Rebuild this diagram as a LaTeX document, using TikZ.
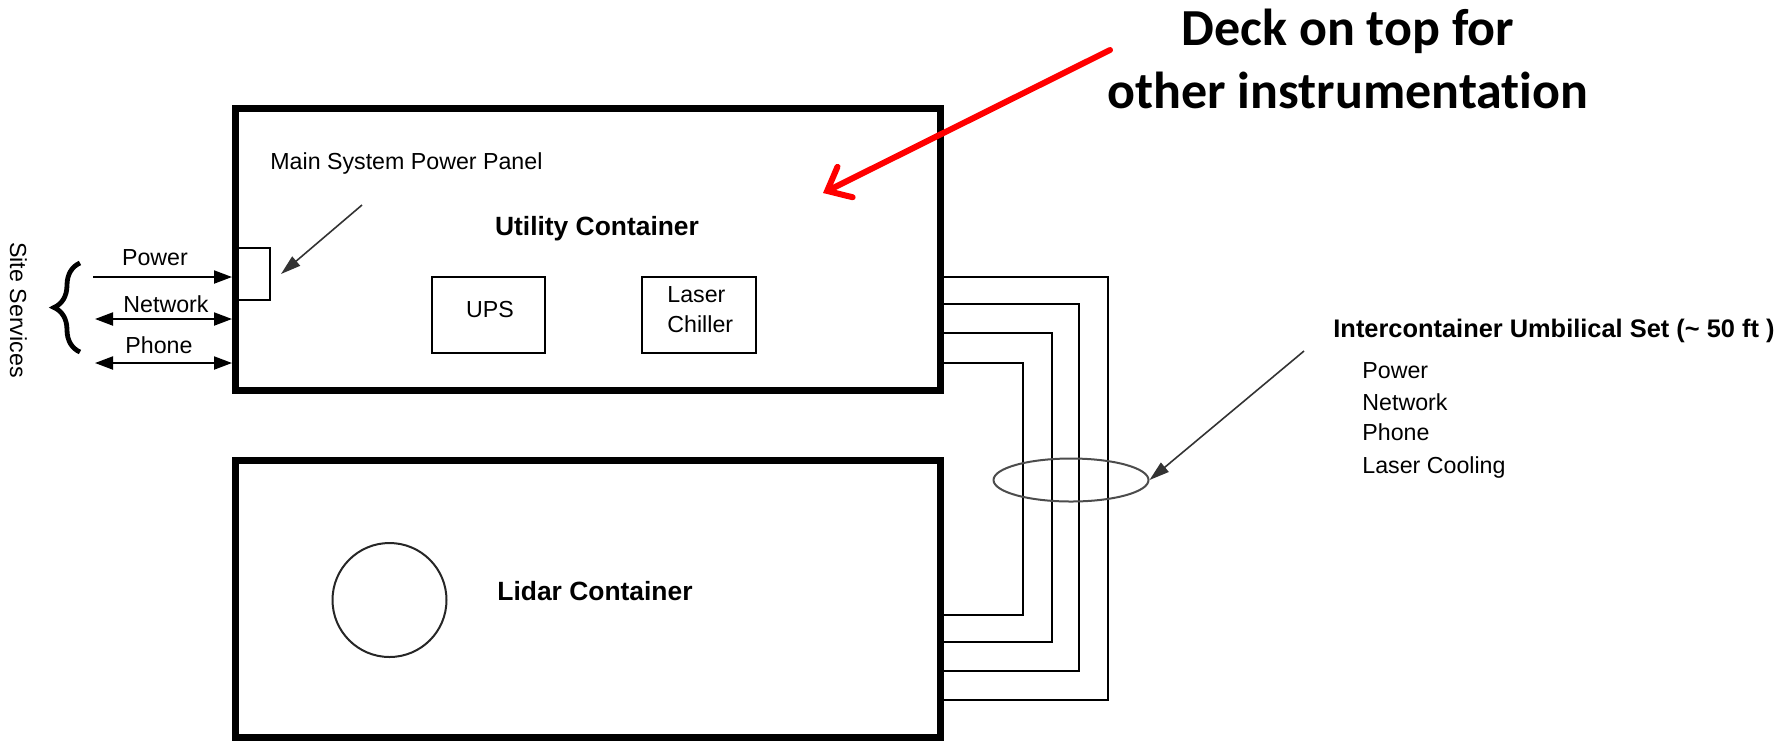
\documentclass[tikz,border=0pt]{standalone}
\usepackage{fontspec}
\setmainfont{Liberation Sans}
\newfontfamily\calibri[Ligatures=NoCommon]{Carlito}
\usetikzlibrary{arrows.meta,decorations.pathreplacing,shapes.geometric}
\begin{document}
\begin{tikzpicture}[x=0.5pt,y=-0.5pt,
  container/.style={draw, line width=3.5pt, rectangle, inner sep=0},
  thinbox/.style={draw, line width=1pt, rectangle, inner sep=0},
  lbl/.style={font=\fontsize{11.6}{14}\selectfont, inner sep=0},
  blbl/.style={font=\fontsize{13.2}{16}\selectfont\bfseries, inner sep=0},
  wire/.style={line width=1pt},
  ptr/.style={line width=0.8pt, draw=black!80, -{Triangle[length=10pt,width=6pt]}},
  svc/.style={line width=1pt},
  tipT/.style={-{Triangle[length=9pt,width=6.5pt]}},
  tipTT/.style={{Triangle[length=9pt,width=6.5pt]}-{Triangle[length=9pt,width=6.5pt]}},
  deckfont/.style={font=\calibri\bfseries\fontsize{26}{31}\selectfont, inner sep=0},
]
\useasboundingbox (0,0) rectangle (1791,741);

% containers
\node[container, minimum width=352.5pt, minimum height=141pt] (util) at (587.5,249) {};
\node[container, minimum width=352.5pt, minimum height=138.5pt] (lidar) at (587.5,598.5) {};

% inner boxes
\node[thinbox, minimum width=17.5pt, minimum height=26pt] (panel) at (252.5,274) {};
\node[thinbox, minimum width=56.5pt, minimum height=38pt] (ups) at (488.5,315) {};
\node[thinbox, minimum width=57pt, minimum height=38pt] (chiller) at (699,315) {};
\node[draw, circle, line width=1pt, draw=black!85, minimum size=57pt, inner sep=0] (lidarscope) at (389.5,600) {};

% texts
\node[lbl, anchor=base west] (mspp) at (270,169) {Main System Power Panel};
\node[blbl, anchor=base] (utiltxt) at (597,235) {Utility Container};
\node[lbl, anchor=base] (upstxt) at (490,317) {UPS};
\node[lbl, anchor=base west] (lasertxt) at (667,302) {Laser};
\node[lbl, anchor=base west] (chillertxt) at (667,332) {Chiller};
\node[blbl, anchor=base] (lidartxt) at (595,600) {Lidar Container};

% panel pointer
\coordinate (mspptail) at (362,205);
\draw[ptr] (mspptail) -- ([xshift=5pt]panel.east);

% site services
\node[lbl, rotate=-90] (site) at (18.5,310) {Site Services};
\coordinate (braceb) at (80,352);
\coordinate (bracet) at (80,263);
\draw[line width=2.4pt, decorate, decoration={brace, amplitude=13pt}] (braceb) -- (bracet);

\coordinate (pwA) at (93,277);  \coordinate (pwB) at (232,277);
\coordinate (nwA) at (95,319);  \coordinate (nwB) at (232,319);
\coordinate (phA) at (95,363);  \coordinate (phB) at (232,363);
\draw[svc, tipT] (pwA) -- (pwB);
\draw[svc, tipTT] (nwA) -- (nwB);
\draw[svc, tipTT] (phA) -- (phB);
\node[lbl, anchor=base] (pwtxt) at (155,265) {Power};
\node[lbl, anchor=base] (nwtxt) at (166,312) {Network};
\node[lbl, anchor=base] (phtxt) at (159,353) {Phone};

% umbilical wires
\coordinate (w1a) at (943,277); \coordinate (w1b) at (943,700);
\coordinate (w2a) at (943,304); \coordinate (w2b) at (943,671);
\coordinate (w3a) at (943,333); \coordinate (w3b) at (943,642);
\coordinate (w4a) at (943,363); \coordinate (w4b) at (943,615);
\draw[wire] (w1a) -| (1108,700) -- (w1b);
\draw[wire] (w2a) -| (1079,671) -- (w2b);
\draw[wire] (w3a) -| (1052,642) -- (w3b);
\draw[wire] (w4a) -| (1023,615) -- (w4b);

\node[draw=black!70, ellipse, line width=1pt, minimum width=77.5pt, minimum height=21.5pt, inner sep=0] (bundle) at (1071,480) {};
\coordinate (umbtail) at (1304,351);
\draw[ptr] (umbtail) -- (bundle.east);

\node[blbl, font=\fontsize{12.7}{15}\selectfont\bfseries, anchor=base west] (umbhead) at (1333,337) {Intercontainer Umbilical Set (\textasciitilde{} 50 ft )};
\node[lbl, anchor=base west] (u1) at (1362,378) {Power};
\node[lbl, anchor=base west] (u2) at (1362,410) {Network};
\node[lbl, anchor=base west] (u3) at (1362,440) {Phone};
\node[lbl, anchor=base west] (u4) at (1362,473) {Laser Cooling};

% deck annotation
\node[deckfont, anchor=base] (deck1) at (1348,45) {Deck on top for};
\node[deckfont, anchor=base] (deck2) at (1348,108) {other instrumentation};
\coordinate (decktail) at (1110,50);
\coordinate (decktip) at (823,193);
\draw[red, line width=3pt, line cap=round, -{Straight Barb[length=10pt,width=17pt,line cap=round]}] (decktail) -- (decktip);
\end{tikzpicture}
\end{document}
